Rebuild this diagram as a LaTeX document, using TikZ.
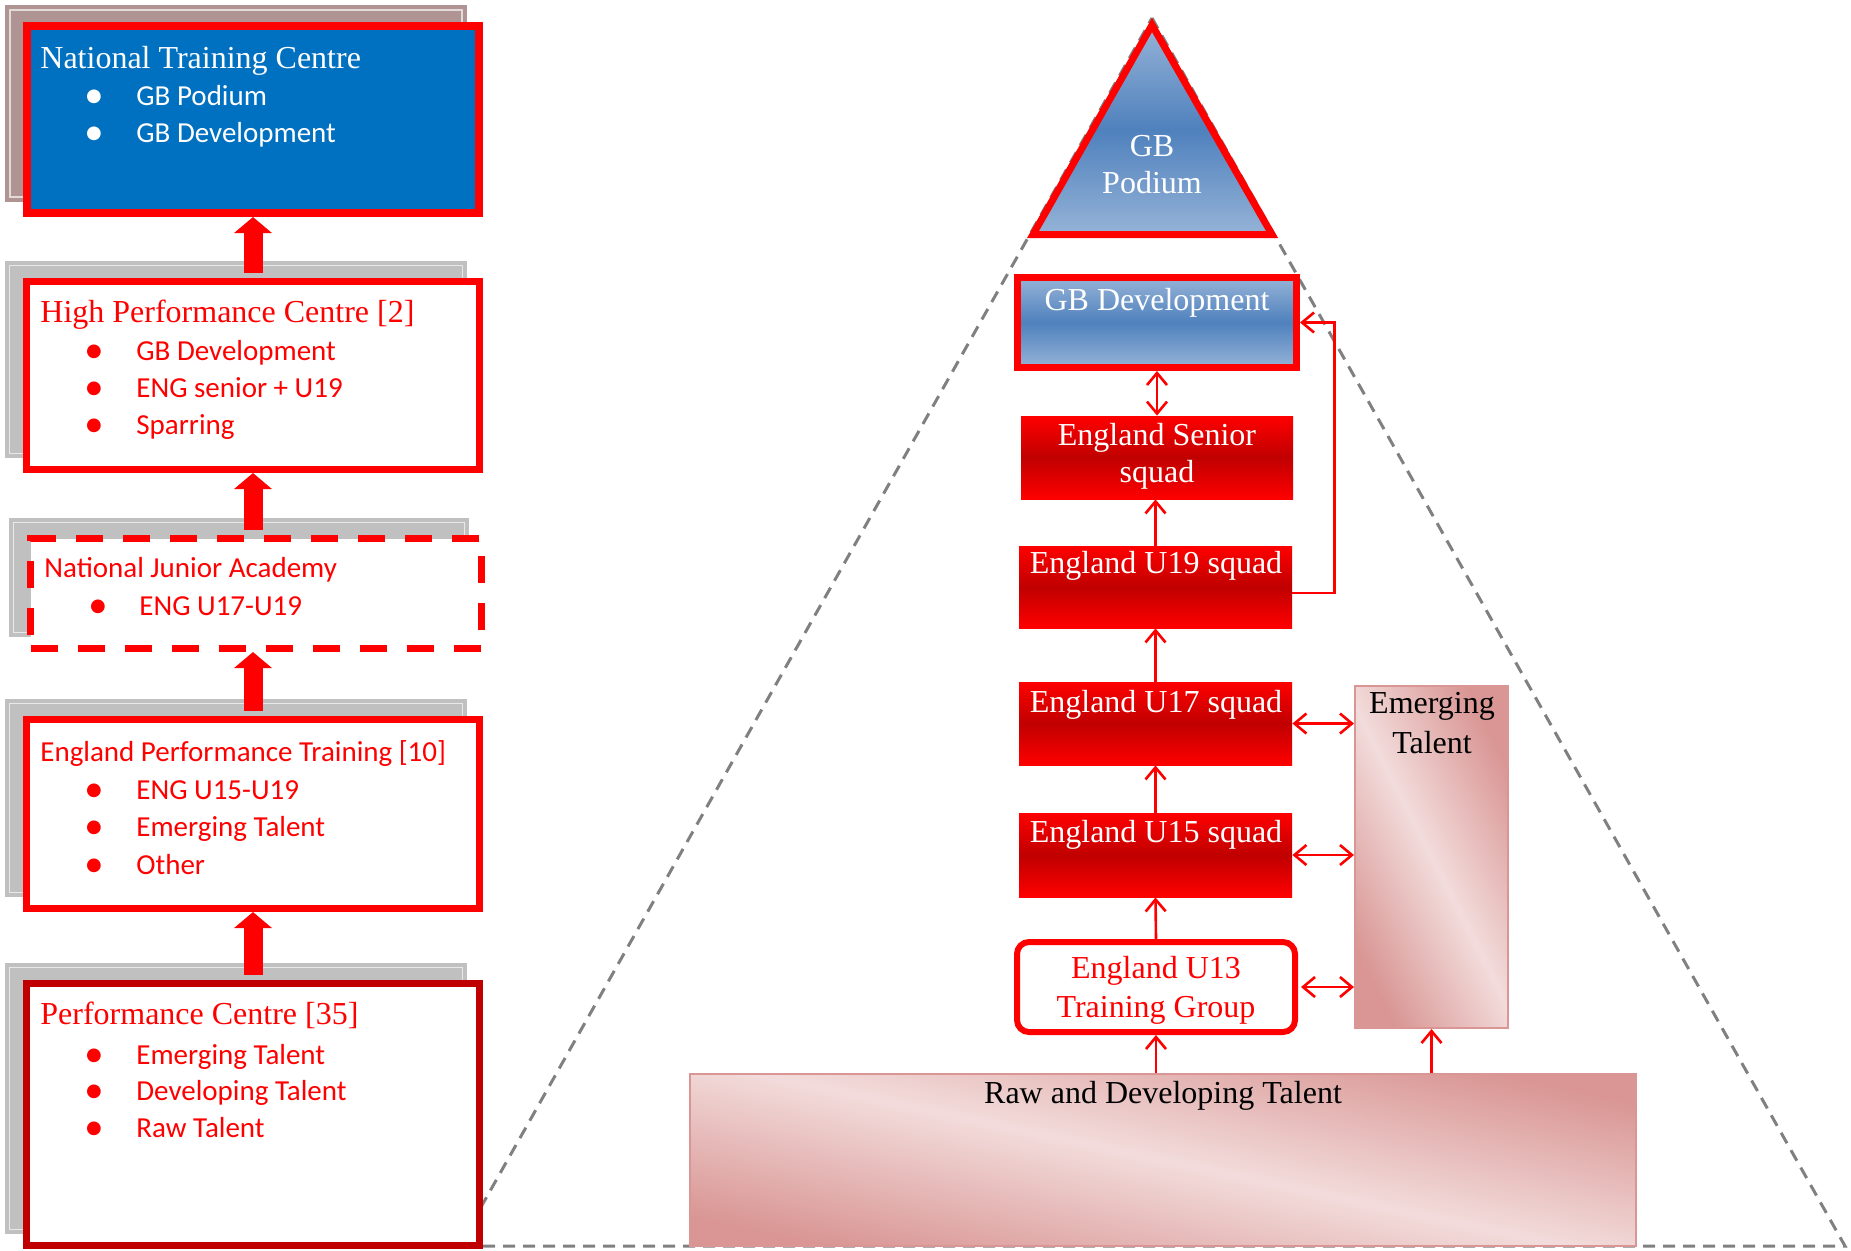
\documentclass[tikz,border=0pt]{standalone}
\usepackage{fontspec}
\setmainfont{Liberation Serif}
\newfontfamily\calibri{Carlito}
\newfontfamily\dotfont{DejaVu Sans}
\usetikzlibrary{arrows.meta, positioning, shadows}

\definecolor{boxred}{RGB}{255,0,0}
\definecolor{darkred}{RGB}{192,0,0}
\definecolor{ntcblue}{RGB}{0,112,192}
\definecolor{ntcshade}{RGB}{176,148,148}
\definecolor{greyshade}{RGB}{192,192,192}
\definecolor{gblight}{RGB}{149,179,215}
\definecolor{gbdark}{RGB}{79,129,189}
\definecolor{pinklight}{RGB}{242,220,219}
\definecolor{pinkdark}{RGB}{217,150,148}
\definecolor{dashgrey}{RGB}{128,128,128}

\newcommand\bigserif{\fontsize{16pt}{18.5pt}\selectfont}
\newcommand\listsans{\calibri\fontsize{14.5pt}{18pt}\selectfont}

\tikzset{
  levelbox/.style={draw=boxred, line width=3.5pt, fill=white, minimum width=226.5pt, inner sep=0pt},
  backshadow/.style={general shadow={fill=#1, draw=#1, double=white!65!#1, double distance=0.6pt, line width=2pt, solid, shadow xshift=-8.5pt, shadow yshift=8pt}},
  uparrow/.style={draw=boxred, line width=9.5pt, -{Triangle[length=8pt,width=18.5pt]}, shorten <=2.5pt},
  heading/.style={anchor=base west, inner sep=0pt, font=\bigserif},
  headsans/.style={anchor=base west, inner sep=0pt, font=\listsans},
  bul/.style={anchor=center, inner sep=0pt, font=\dotfont\fontsize{9pt}{9pt}\selectfont},
  entry/.style={anchor=base west, inner sep=0pt, font=\listsans},
  squad/.style={top color=boxred, bottom color=boxred, middle color=darkred, minimum width=136.5pt, inner sep=0pt},
  gbbox/.style={draw=boxred, line width=3.5pt, top color=gblight, bottom color=gblight, middle color=gbdark, inner sep=0pt},
  sqtext/.style={anchor=base, inner sep=0pt, align=center, font=\bigserif},
  talent/.style={draw=pinkdark, line width=1pt, top color=pinkdark, bottom color=pinkdark, middle color=pinklight, shading angle=#1, inner sep=0pt},
  link/.style={draw=boxred, line width=1.3pt},
}

\begin{document}
\begin{tikzpicture}[x=0.5pt, y=-0.5pt, >={Straight Barb[length=6pt,width=10pt]}]
\useasboundingbox (0,0) rectangle (1851,1250);
%dashed outline
\draw[dashgrey, line width=1.5pt, dash pattern=on 6pt off 4pt] (1152,18) -- (1845,1246) -- (459,1246) -- cycle;

%left boxes
\node[levelbox, line width=4pt, fill=ntcblue, minimum width=226pt, minimum height=93.5pt, backshadow=ntcshade] (ntc) at (253,119.5) {};
\node[levelbox, minimum height=94pt, backshadow=greyshade] (hpc) at (253,375.5) {};
\node[levelbox, dash pattern=on 13.5pt off 10pt, minimum width=225.5pt, minimum height=55pt, backshadow=greyshade] (nja) at (256,593.5) {};
\node[levelbox, minimum height=94.5pt, backshadow=greyshade] (ept) at (253,814) {};
\node[levelbox, draw=darkred, minimum height=131pt, backshadow=greyshade] (pc) at (253,1114.5) {};

%left arrows
\draw[uparrow] (hpc.north) -- (ntc.south);
\draw[uparrow] (hpc.south |- nja.north) -- (hpc.south);
\draw[uparrow] (ept.north) -- (ept.north |- nja.south);
\draw[uparrow] (pc.north) -- (ept.south);

%left texts
\node[heading, text=white] (ntc-t) at (40,68) {National Training Centre};
\node[bul, text=white] (ntc-b1) at (94,97) {●};
\node[entry, text=white] (ntc-i1) at (136,105) {GB Podium};
\node[bul, text=white] (ntc-b2) at (94,134) {●};
\node[entry, text=white] (ntc-i2) at (136,142) {GB Development};

\node[heading, text=boxred] (hpc-t) at (40,322) {High Performance Centre [2]};
\node[bul, text=boxred] (hpc-b1) at (94,352) {●};
\node[entry, text=boxred] (hpc-i1) at (136,360) {GB Development};
\node[bul, text=boxred] (hpc-b2) at (94,389) {●};
\node[entry, text=boxred] (hpc-i2) at (136,397) {ENG senior + U19};
\node[bul, text=boxred] (hpc-b3) at (94,426) {●};
\node[entry, text=boxred] (hpc-i3) at (136,434) {Sparring};

\node[headsans, text=boxred] (nja-t) at (44,577) {National Junior Academy};
\node[bul, text=boxred] (nja-b1) at (98,607) {●};
\node[entry, text=boxred] (nja-i1) at (139,615) {ENG U17-U19};

\node[headsans, text=boxred] (ept-t) at (40,761) {England Performance Training [10]};
\node[bul, text=boxred] (ept-b1) at (94,791) {●};
\node[entry, text=boxred] (ept-i1) at (136,799) {ENG U15-U19};
\node[bul, text=boxred] (ept-b2) at (94,828) {●};
\node[entry, text=boxred] (ept-i2) at (136,836) {Emerging Talent};
\node[bul, text=boxred] (ept-b3) at (94,866) {●};
\node[entry, text=boxred] (ept-i3) at (136,874) {Other};

\node[heading, text=boxred] (pc-t) at (40,1024) {Performance Centre [35]};
\node[bul, text=boxred] (pc-b1) at (94,1056) {●};
\node[entry, text=boxred] (pc-i1) at (136,1064) {Emerging Talent};
\node[bul, text=boxred] (pc-b2) at (94,1092) {●};
\node[entry, text=boxred] (pc-i2) at (136,1100) {Developing Talent};
\node[bul, text=boxred] (pc-b3) at (94,1129) {●};
\node[entry, text=boxred] (pc-i3) at (136,1137) {Raw Talent};

%pyramid top
\path[draw=boxred, line width=3.5pt, top color=gblight, bottom color=gblight, middle color=gbdark] (1152,25) -- (1272,234.5) -- (1033,234.5) -- cycle;
\node[sqtext, text=white] (podium) at (1152,193) {GB\\Podium};

%squad boxes
\node[gbbox, minimum width=139.5pt, minimum height=45pt] (gbdev) at (1157,322.5) {};
\node[squad, minimum width=136pt, minimum height=41.5pt] (senior) at (1157,457.5) {};
\node[squad, minimum height=41pt] (u19) at (1155.5,587) {};
\node[squad, minimum height=41.5pt] (u17) at (1155.5,723.5) {};
\node[squad, minimum height=42pt] (u15) at (1155.5,855) {};
\node[draw=boxred, line width=3pt, rounded corners=6pt, fill=white, minimum width=139pt, minimum height=45pt] (u13) at (1156,987) {};
\node[talent=-63, minimum width=76.5pt, minimum height=171pt] (emerging) at (1431.5,857) {};
\node[talent=-12, minimum width=473pt, minimum height=86pt] (raw) at (1163,1160) {};

%squad texts
\node[sqtext, text=white] (gbdev-t) at (1157,310) {GB Development};
\node[sqtext, text=white] (senior-t) at (1157,482) {England Senior\\squad};
\node[sqtext, text=white] (u19-t) at (1156,573) {England U19 squad};
\node[sqtext, text=white] (u17-t) at (1156,712) {England U17 squad};
\node[sqtext, text=white] (u15-t) at (1156,842) {England U15 squad};
\node[sqtext, text=boxred] (u13-t) at (1156,1017) {England U13\\[1pt]Training Group};
\node[sqtext, text=black] (emerging-t) at (1432,753) {Emerging\\[1.5pt]Talent};
\node[sqtext, text=black] (raw-t) at (1163,1103) {Raw and Developing Talent};

%links
\draw[link, <->] (gbdev.south) -- (senior.north);
\draw[link, ->] (u19.north) -- (u19.north |- senior.south);
\draw[link, ->] (u17.north) -- (u19.south);
\draw[link, ->] (u15.north) -- (u17.south);
\draw[link, ->] (u13.north) -- (u15.south);
\draw[link, ->] (raw.north -| u13) -- (u13.south);
\draw[link, ->] (raw.north -| emerging) -- (emerging.south);
\draw[link, <->] (u17.east) -- (u17.east -| emerging.west);
\draw[link, <->] (u15.east) -- (u15.east -| emerging.west);
\draw[link, <->] ([xshift=1.5pt]u13.east) -- (u13.east -| emerging.west);
\draw[link, ->] ([yshift=-3pt]u19.east) -- ++(42,0) |- (gbdev.east);
\end{tikzpicture}
\end{document}
